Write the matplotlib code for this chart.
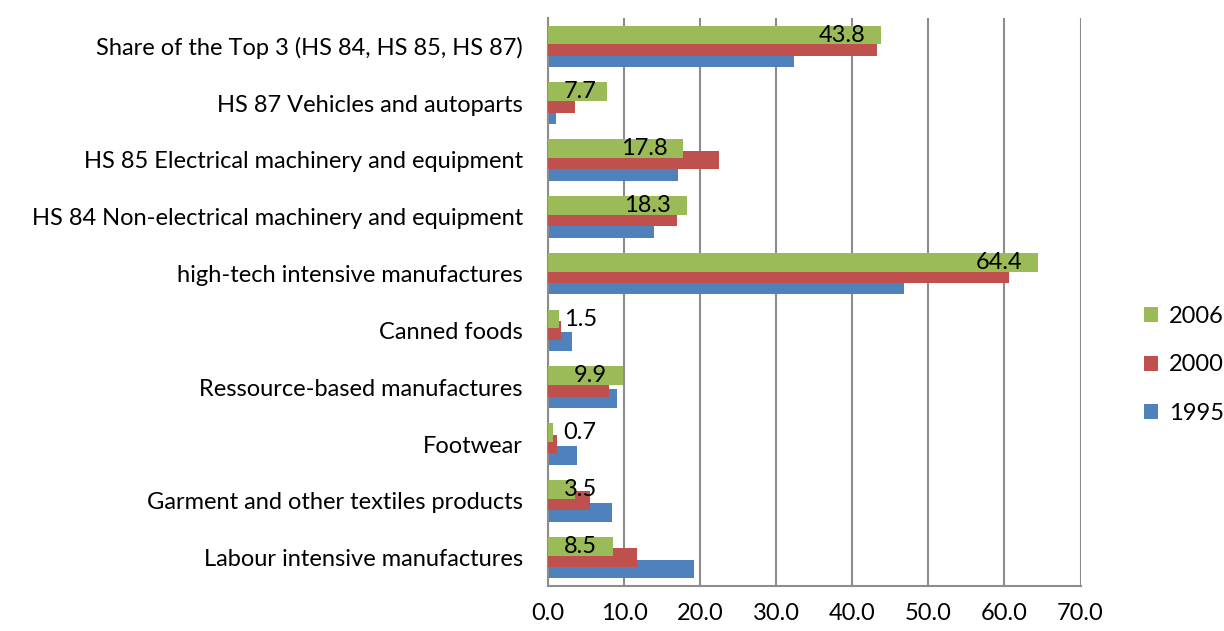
import matplotlib
matplotlib.use("Agg")
import matplotlib.pyplot as plt
import numpy as np

plt.rcParams['font.family'] = ['Lato', 'DejaVu Sans']

# categories from bottom to top
categories = ['Labour intensive manufactures',
              'Garment and other textiles products',
              'Footwear',
              'Ressource-based manufactures',
              'Canned foods',
              'high-tech intensive manufactures',
              'HS 84 Non-electrical machinery and equipment',
              'HS 85 Electrical machinery and equipment',
              'HS 87 Vehicles and autoparts',
              'Share of the Top 3 (HS 84, HS 85, HS 87)']

v1995 = [19.2, 8.4, 3.8, 9.1, 3.2, 46.8, 14.0, 17.1, 1.1, 32.3]
v2000 = [11.7, 5.5, 1.2, 8.0, 1.7, 60.6, 17.0, 22.5, 3.6, 43.2]
v2006 = [8.5, 3.5, 0.7, 9.9, 1.5, 64.4, 18.3, 17.8, 7.7, 43.8]

c1995 = '#4f81bd'
c2000 = '#c0504d'
c2006 = '#9bbb59'
gridc = '#8c8c8c'
fs = 17

fig = plt.figure(figsize=(12.24, 6.31), dpi=100)
ax = fig.add_axes([0.4477, 0.0713, 0.8828 - 0.4477, 0.9715 - 0.0713])

y = np.arange(len(categories))
h = 0.33
step = 0.2
ax.barh(y - step, v1995, height=h, color=c1995, label='1995', zorder=2)
ax.barh(y, v2000, height=h, color=c2000, label='2000', zorder=3)
ax.barh(y + step, v2006, height=h, color=c2006, label='2006', zorder=4)

# data labels on the 2006 bars (inside end, but not too far left)
for yi, v in zip(y, v2006):
    xr = max(v - 2.1, 6.4)
    ax.text(xr, yi + step, '%.1f' % v, ha='right', va='center',
            fontsize=fs, color='black', zorder=5)

ax.set_xlim(0, 70)
ax.set_ylim(-0.5, len(categories) - 0.5)
ax.set_xticks(np.arange(0, 71, 10))
ax.set_xticklabels(['%.1f' % t for t in np.arange(0, 71, 10)], fontsize=fs)
ax.set_yticks(y)
ax.set_yticklabels(categories, fontsize=fs)
ax.tick_params(axis='both', length=0)
ax.tick_params(axis='y', pad=18)
ax.tick_params(axis='x', pad=12)

ax.grid(axis='x', color=gridc, linewidth=1.5, zorder=0)
ax.set_axisbelow(True)
for s in ['top', 'right']:
    ax.spines[s].set_visible(False)
for s in ['left', 'bottom']:
    ax.spines[s].set_color(gridc)
    ax.spines[s].set_linewidth(1.5)

handles, labels = ax.get_legend_handles_labels()
fig.legend(handles[::-1], labels[::-1], loc='center left',
           bbox_to_anchor=(0.9345, 0.4216), frameon=False, fontsize=fs,
           handlelength=0.6, handleheight=0.6, handletextpad=0.45,
           labelspacing=1.15, borderaxespad=0, borderpad=0)

fig.savefig('out.png', dpi=100)
